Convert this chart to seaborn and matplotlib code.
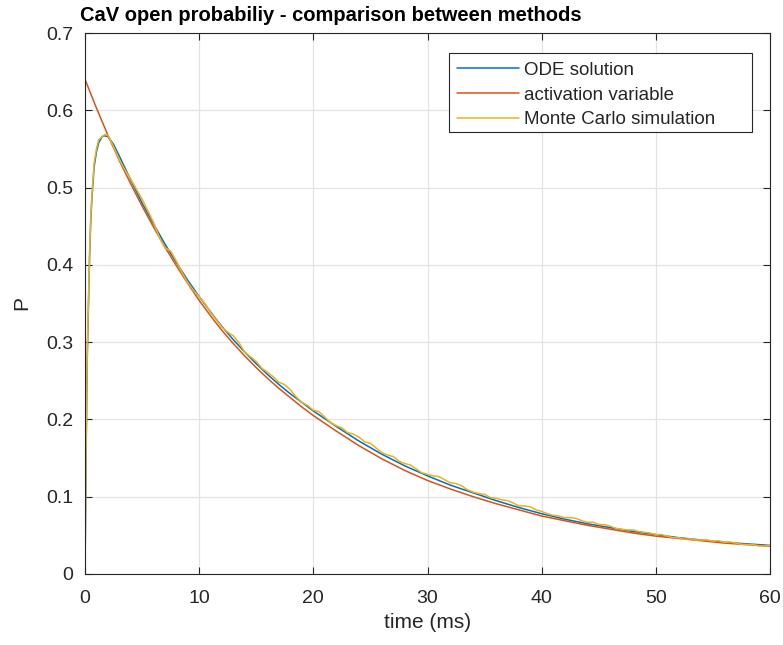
import numpy as np
import pandas as pd
import matplotlib
matplotlib.use("Agg")
import matplotlib.pyplot as plt
from matplotlib.patches import Rectangle
import seaborn as sns

# ---------------- data ----------------
ode_time = [0, 0.05, 0.1, 0.15, 0.2, 0.3, 0.4, 0.5, 0.6, 0.8, 1.0, 1.2, 1.5, 1.7,
            2.0, 2.5, 3, 4, 5, 6, 7, 8, 9, 10, 11, 12, 13, 14, 15, 16, 17, 18, 19, 20,
            22, 24, 26, 28, 30, 32, 34, 36, 38, 40, 42, 44, 46, 48, 50, 52, 54, 56, 58, 60]
ode_p = [0, 0.08, 0.16, 0.22, 0.28, 0.345, 0.41, 0.455, 0.485, 0.527, 0.546, 0.558, 0.566, 0.567,
         0.566, 0.556, 0.541, 0.510, 0.480, 0.453, 0.427, 0.403, 0.380, 0.359, 0.339, 0.320,
         0.303, 0.287, 0.272, 0.258, 0.245, 0.233, 0.222, 0.211,
         0.191, 0.172, 0.155, 0.140, 0.127, 0.115, 0.105, 0.095, 0.086, 0.078, 0.071, 0.065,
         0.060, 0.055, 0.051, 0.047, 0.044, 0.041, 0.039, 0.037]

act_time = [0, 1, 2, 3, 4, 5, 6, 7, 8, 9, 10, 11, 12, 13, 14, 15, 16, 17, 18, 19, 20,
            22, 24, 26, 28, 30, 32, 34, 36, 38, 40, 42, 44, 46, 48, 50, 52, 54, 56, 58, 60]
act_p = [0.640, 0.603, 0.568, 0.535, 0.505, 0.476, 0.449, 0.423, 0.399, 0.376, 0.354,
         0.334, 0.315, 0.298, 0.282, 0.267, 0.253, 0.240, 0.228, 0.216, 0.205,
         0.185, 0.166, 0.149, 0.134, 0.121, 0.110, 0.100, 0.091, 0.083, 0.075,
         0.069, 0.063, 0.058, 0.053, 0.049, 0.046, 0.043, 0.040, 0.038, 0.036]

mc_time = [0, 0.05, 0.1, 0.15, 0.2, 0.3, 0.4, 0.5, 0.6, 0.8, 1.0, 1.2, 1.5, 1.8,
           2.0, 2.5, 3.0, 3.5, 4.0, 4.5, 5.0, 5.5, 6.0, 6.5, 7.0, 7.5, 8.0, 8.5, 9.0, 9.5,
           10.0, 10.5, 11.0, 11.5, 12.0, 12.5, 13.0, 13.5, 14.0, 14.5, 15.0, 15.5, 16.0, 16.5,
           17.0, 17.5, 18.0, 18.5, 19.0, 19.5, 20.0, 20.5, 21.0, 21.5, 22.0, 22.5, 23.0, 23.5,
           24.0, 24.5, 25.0, 25.5, 26.0, 26.5, 27.0, 27.5, 28.0, 28.5, 29.0, 29.5, 30.0, 30.5,
           31.0, 31.5, 32.0, 32.5, 33.0, 33.5, 34.0, 34.5, 35.0, 35.5, 36.0, 36.5, 37.0, 37.5,
           38.0, 38.5, 39.0, 39.5, 40.0, 40.5, 41.0, 41.5, 42.0, 42.5, 43.0, 43.5, 44.0, 44.5,
           45.0, 45.5, 46.0, 46.5, 47.0, 47.5, 48.0, 48.5, 49.0, 49.5, 50.0, 50.5, 51.0, 51.5,
           52.0, 52.5, 53.0, 53.5, 54.0, 54.5, 55.0, 55.5, 56.0, 56.5, 57.0, 57.5, 58.0, 58.5,
           59.0, 59.5, 60.0]
mc_p = [0, 0.09, 0.17, 0.23, 0.29, 0.35, 0.415, 0.46, 0.49, 0.532, 0.55, 0.562, 0.566, 0.569,
        0.568, 0.553, 0.536, 0.523, 0.511, 0.498, 0.485, 0.470, 0.455, 0.436, 0.422, 0.418,
        0.405, 0.390, 0.377, 0.367,
        0.359, 0.350, 0.338, 0.329, 0.319, 0.313, 0.308, 0.299, 0.287, 0.281, 0.275, 0.266,
        0.261, 0.255, 0.248, 0.245, 0.238, 0.229, 0.222, 0.218,
        0.212, 0.210, 0.203, 0.196, 0.192, 0.189, 0.183, 0.181, 0.177, 0.171, 0.169, 0.163,
        0.157, 0.154, 0.152, 0.146, 0.143, 0.141, 0.136, 0.131,
        0.129, 0.127, 0.126, 0.122, 0.118, 0.117, 0.114, 0.109, 0.106, 0.104, 0.103, 0.099,
        0.098, 0.096, 0.095, 0.092, 0.088, 0.088, 0.087, 0.083,
        0.081, 0.078, 0.076, 0.075, 0.073, 0.073, 0.072, 0.069, 0.067, 0.067, 0.064, 0.064,
        0.062, 0.059, 0.058, 0.057, 0.057, 0.055, 0.054, 0.053,
        0.051, 0.051, 0.049, 0.047, 0.047, 0.045, 0.0455, 0.044, 0.044, 0.044, 0.0425, 0.043,
        0.041, 0.0415, 0.040, 0.0385, 0.038, 0.038, 0.0365, 0.036, 0.037]

labels = ["ODE solution", "activation variable", "Monte Carlo simulation"]
colors = ["#0072BD", "#D95319", "#EDB120"]
x_ticks = [0, 10, 20, 30, 40, 50, 60]
y_ticks = [0, 0.1, 0.2, 0.3, 0.4, 0.5, 0.6, 0.7]
y_tick_labels = ["0", "0.1", "0.2", "0.3", "0.4", "0.5", "0.6", "0.7"]

# ---------------- plot ----------------
sns.set_theme(style="white")
plt.rcParams["font.family"] = ["Liberation Sans", "DejaVu Sans"]

W, H = 783, 645
fig = plt.figure(figsize=(W / 100, H / 100), dpi=100)
L, R, T, B = 85, 770, 33, 574
AW, AH = R - L, B - T
ax = fig.add_axes([L / W, 1 - B / H, AW / W, AH / H])

def ax_x(px):
    return (px - L) / AW

def ax_y(py):
    return (B - py) / AH

df_ode = pd.DataFrame({"t": ode_time, "p": ode_p})
df_act = pd.DataFrame({"t": act_time, "p": act_p})
df_mc = pd.DataFrame({"t": mc_time, "p": mc_p})

for df, lab, col in zip([df_ode, df_act, df_mc], labels, colors):
    sns.lineplot(data=df, x="t", y="p", ax=ax, color=col, linewidth=1.1,
                 label=lab, sort=False, estimator=None)

ax.set_xlim(0, 60)
ax.set_ylim(0, 0.7)
ax.set_xticks(x_ticks)
ax.set_xticklabels([str(v) for v in x_ticks])
ax.set_yticks(y_ticks)
ax.set_yticklabels(y_tick_labels)

tick_fs = 14
lab_fs = 15
title_fs = 14.5
leg_fs = 13.5
dark = "#262626"

ax.grid(True, color="#e3e3e3", linewidth=0.9)
ax.set_axisbelow(True)
for s in ax.spines.values():
    s.set_color(dark)
    s.set_linewidth(0.8)
    s.set_visible(True)
ax.tick_params(direction="in", length=5, width=0.8, colors=dark,
               top=True, right=True, bottom=True, left=True,
               labelsize=tick_fs, labelcolor=dark)
ax.tick_params(axis="x", pad=11.5)
ax.tick_params(axis="y", pad=8.5)

ax.set_xlabel("time (ms)", fontsize=lab_fs, color=dark)
ax.xaxis.set_label_coords(0.5, ax_y(613))
ax.set_ylabel("P", fontsize=lab_fs, color=dark)
ax.yaxis.set_label_coords(ax_x(31), 0.5)

fig.text(80 / W, 1 - 21 / H, "CaV open probabiliy - comparison between methods",
         fontsize=title_fs, fontweight="bold", ha="left", va="baseline", color="black")

# legend box (MATLAB style, extra right space)
ax.add_patch(Rectangle((ax_x(449), ax_y(132)), ax_x(752) - ax_x(449), ax_y(53) - ax_y(132),
                       transform=ax.transAxes, facecolor="white", edgecolor=dark,
                       linewidth=0.8, zorder=4.5, clip_on=False))
leg = ax.legend(loc="upper left", bbox_to_anchor=(ax_x(452), ax_y(57)),
                borderaxespad=0, fontsize=leg_fs, frameon=False,
                handlelength=3.3, handletextpad=0.3, labelspacing=0.41, borderpad=0.25)
leg.set_zorder(5)

fig.savefig("out.png", dpi=100)
